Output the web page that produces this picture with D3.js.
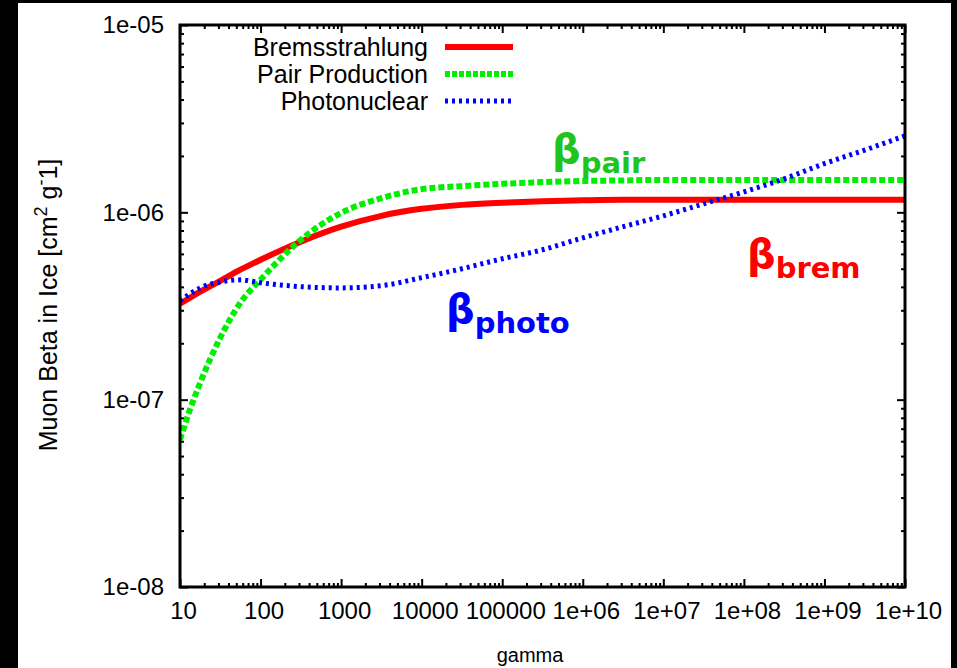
<!DOCTYPE html>
<html>
<head>
<meta charset="utf-8">
<script src="https://cdn.jsdelivr.net/npm/d3@7"></script>
<style>
  body { margin: 0; background: #000; }
  svg { display: block; }
  text { font-family: "Liberation Sans", Arial, sans-serif; fill: #000; }
</style>
</head>
<body>
<div class="chart"></div>
<script>
// gamma grid (half decades, a bit finer at the start)
var gamma = [10, 13.3, 17.8, 31.6, 56.2, 100, 316, 1000, 3162, 1e4, 3.16e4, 1e5, 3.16e5,
             1e6, 3.16e6, 1e7, 3.16e7, 1e8, 3.16e8, 1e9, 3.16e9, 1e10];

var brem = [3.25e-7, 3.5e-7, 3.77e-7, 4.31e-7, 4.94e-7, 5.58e-7, 6.97e-7, 8.38e-7, 9.58e-7,
            1.044e-6, 1.096e-6, 1.125e-6, 1.146e-6, 1.159e-6, 1.167e-6, 1.167e-6, 1.167e-6,
            1.167e-6, 1.167e-6, 1.167e-6, 1.167e-6, 1.167e-6];

var pair = [6.12e-8, 8.85e-8, 1.23e-7, 2.14e-7, 3.29e-7, 4.37e-7, 7.13e-7, 9.93e-7, 1.19e-6,
            1.33e-6, 1.38e-6, 1.42e-6, 1.45e-6, 1.47e-6, 1.48e-6, 1.49e-6, 1.49e-6,
            1.49e-6, 1.49e-6, 1.49e-6, 1.49e-6, 1.49e-6];

var photo = [3.37e-7, 3.67e-7, 3.95e-7, 4.25e-7, 4.36e-7, 4.21e-7, 4.01e-7, 3.95e-7, 4.06e-7,
             4.48e-7, 5.0e-7, 5.65e-7, 6.31e-7, 7.31e-7, 8.38e-7, 9.58e-7, 1.11e-6,
             1.285e-6, 1.51e-6, 1.82e-6, 2.15e-6, 2.56e-6];

var xTicks = [10, 100, 1000, 1e4, 1e5, 1e6, 1e7, 1e8, 1e9, 1e10];
var xTickLabels = ["10", "100", "1000", "10000", "100000", "1e+06", "1e+07", "1e+08", "1e+09", "1e+10"];
var yTicks = [1e-8, 1e-7, 1e-6, 1e-5];
var yTickLabels = ["1e-08", "1e-07", "1e-06", "1e-05"];
var minorSteps = [2, 3, 4, 5, 6, 7, 8, 9];

var seriesNames = ["Bremsstrahlung", "Pair Production", "Photonuclear"];
var seriesColors = ["#ff0000", "#00ee00", "#0000ff"];

var W = 957, H = 668;
var margin = {top: 25, right: 52, bottom: 81, left: 180};
var width = W - margin.left - margin.right;
var height = H - margin.top - margin.bottom;

var svg = d3.select(".chart").append("svg")
    .attr("width", W)
    .attr("height", H);

// white page inside the black border
svg.append("rect")
    .attr("x", 18).attr("y", 3)
    .attr("width", 933).attr("height", H - 3)
    .attr("fill", "#fff");

var g = svg.append("g")
    .attr("transform", "translate(" + margin.left + "," + margin.top + ")");

var xScale = d3.scaleLog().domain([10, 1e10]).range([0, width]);
var yScale = d3.scaleLog().domain([1e-8, 1e-5]).range([height, 0]);

// minor tick positions
var xMinor = [];
xTicks.slice(0, -1).forEach(function(t) {
    minorSteps.forEach(function(m) { xMinor.push(t * m); });
});
var yMinor = [];
yTicks.slice(0, -1).forEach(function(t) {
    minorSteps.forEach(function(m) { yMinor.push(t * m); });
});

function styleAxis(sel) {
    sel.select(".domain").remove();
    sel.selectAll(".tick line").attr("stroke", "#000").attr("stroke-width", 2);
}

// bottom / top
g.append("g").attr("transform", "translate(0," + height + ")")
    .call(d3.axisBottom(xScale).tickValues(xTicks).tickSize(-8)
        .tickFormat(function(d, i) { return xTickLabels[i]; }).tickPadding(15))
    .call(styleAxis)
    .selectAll("text")
    .attr("font-size", 24).attr("fill", "#000").attr("dx", 3);

g.append("g").attr("transform", "translate(0," + height + ")")
    .call(d3.axisBottom(xScale).tickValues(xMinor).tickSize(-4).tickFormat(""))
    .call(styleAxis);

g.append("g")
    .call(d3.axisTop(xScale).tickValues(xTicks).tickSize(-8).tickFormat(""))
    .call(styleAxis);
g.append("g")
    .call(d3.axisTop(xScale).tickValues(xMinor).tickSize(-4).tickFormat(""))
    .call(styleAxis);

// left / right
g.append("g")
    .call(d3.axisLeft(yScale).tickValues(yTicks).tickSize(-8)
        .tickFormat(function(d, i) { return yTickLabels[i]; }).tickPadding(16))
    .call(styleAxis)
    .selectAll("text").attr("font-size", 24).attr("fill", "#000");
g.append("g")
    .call(d3.axisLeft(yScale).tickValues(yMinor).tickSize(-4).tickFormat(""))
    .call(styleAxis);

g.append("g").attr("transform", "translate(" + width + ",0)")
    .call(d3.axisRight(yScale).tickValues(yTicks).tickSize(-8).tickFormat(""))
    .call(styleAxis);
g.append("g").attr("transform", "translate(" + width + ",0)")
    .call(d3.axisRight(yScale).tickValues(yMinor).tickSize(-4).tickFormat(""))
    .call(styleAxis);

// curves
g.append("clipPath").attr("id", "clip")
    .append("rect").attr("width", width).attr("height", height);

var line = d3.line()
    .x(function(d) { return xScale(d[0]); })
    .y(function(d) { return yScale(d[1]); })
    .curve(d3.curveMonotoneX);

var dashes = [null, "6,3", "3,4"];
var widths = [6, 6, 5];
var allSeries = [brem, pair, photo];

allSeries.forEach(function(vals, i) {
    g.append("path")
        .datum(d3.zip(gamma, vals))
        .attr("clip-path", "url(#clip)")
        .attr("fill", "none")
        .attr("stroke", seriesColors[i])
        .attr("stroke-width", widths[i])
        .attr("stroke-dasharray", dashes[i])
        .attr("d", line);
});

// frame
g.append("rect")
    .attr("width", width).attr("height", height)
    .attr("fill", "none").attr("stroke", "#000").attr("stroke-width", 3);

// legend
var legend = svg.append("g");
seriesNames.forEach(function(name, i) {
    var y = 47 + i * 27;
    legend.append("text")
        .attr("x", 428).attr("y", y)
        .attr("dy", "0.35em")
        .attr("text-anchor", "end")
        .attr("font-size", 25)
        .text(name);
    legend.append("line")
        .attr("x1", 445).attr("x2", 513)
        .attr("y1", y).attr("y2", y)
        .attr("stroke", seriesColors[i])
        .attr("stroke-width", widths[i])
        .attr("stroke-dasharray", i == 1 ? "5,2" : dashes[i]);
});

// axis titles
svg.append("text")
    .attr("x", 530).attr("y", 662)
    .attr("text-anchor", "middle")
    .attr("font-size", 20)
    .text("gamma");

var yt = svg.append("text")
    .attr("transform", "translate(57,305) rotate(-90)")
    .attr("text-anchor", "middle")
    .attr("font-size", 25);
yt.append("tspan").text("Muon Beta in Ice [cm");
yt.append("tspan").attr("font-size", 18).attr("dy", -10).text("2");
yt.append("tspan").attr("dy", 10).text(" g");
yt.append("tspan").attr("font-size", 18).attr("dy", -10).text("-");
yt.append("tspan").attr("dy", 10).text("1]");

// beta annotations
var notes = [
    {sub: "pair", x: 552, y: 163, color: "#1fc41f"},
    {sub: "photo", x: 446, y: 323, color: "#0000ff"},
    {sub: "brem", x: 747, y: 268, color: "#ff0000"}
];
notes.forEach(function(n) {
    var t = svg.append("text")
        .attr("x", n.x).attr("y", n.y)
        .style("fill", n.color)
        .style("font-family", "'DejaVu Sans', Verdana, sans-serif")
        .attr("font-weight", "bold")
        .attr("font-size", 40);
    t.append("tspan").text("β");
    t.append("tspan").attr("font-size", 29).attr("dy", 10).text(n.sub);
});
</script>
</body>
</html>
